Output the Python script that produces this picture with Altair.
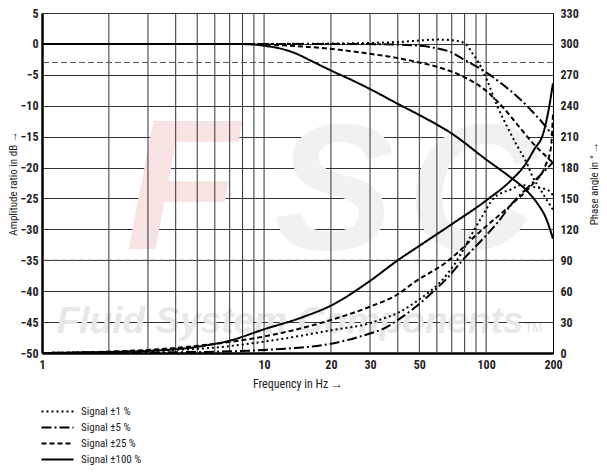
import altair as alt
import pandas as pd

# ---------------- data ----------------
signals = ["Signal ±1 %", "Signal ±5 %", "Signal ±25 %", "Signal ±100 %"]
dash_styles = [[2, 3], [10, 3, 2, 3], [5, 3], [1, 0]]

# amplitude ratio (dB)
amp_f_1 = [1, 10, 20, 30, 40, 50, 60, 70, 80, 87, 95, 101, 112, 124, 138, 152, 162, 175, 188, 200]
amp_db_1 = [0, 0, 0.05, 0.15, 0.3, 0.55, 0.7, 0.6, 0.1, -1.6, -3.8, -5.9, -10.0, -13.3, -16.5, -19.2, -21.5, -23.5, -25.3, -26.8]

amp_f_5 = [1, 20, 40, 50, 60, 70, 80, 90, 100, 120, 140, 160, 180, 200]
amp_db_5 = [0, 0, -0.1, -0.3, -0.7, -1.4, -2.6, -3.6, -4.6, -6.7, -8.7, -10.8, -12.8, -14.9]

amp_f_25 = [1, 8, 13, 20, 30, 40, 50, 60, 80, 100, 120, 140, 160, 180, 200]
amp_db_25 = [0, 0, -0.3, -0.8, -1.6, -2.3, -3.0, -3.7, -5.4, -7.6, -10.4, -13.3, -15.8, -17.7, -19.2]

amp_f_100 = [1, 7, 9, 10, 12, 14, 16, 18, 20, 25, 30, 40, 50, 70, 100, 130, 150, 170, 185, 200]
amp_db_100 = [0, 0, -0.1, -0.3, -0.8, -1.6, -2.6, -3.5, -4.3, -5.9, -7.3, -9.7, -11.5, -14.5, -18.7, -21.7, -23.5, -25.8, -28.0, -31.5]

# phase angle (degrees)
ph_f_1 = [1, 5, 10, 20, 30, 34, 41, 47, 67, 74, 83, 95, 108, 130, 144, 165, 190, 200]
ph_deg_1 = [0, 4, 11, 22, 29, 33, 40, 48, 77, 90, 109, 131, 150, 159, 163, 161, 158, 153]

ph_f_5 = [1, 5, 10, 20, 30, 34, 40, 47, 58, 67, 79, 94, 112, 133, 158, 180, 200]
ph_deg_5 = [0, 1, 3, 9, 19, 23, 32, 43, 60, 73, 91, 108, 126, 147, 163, 175, 185]

ph_f_25 = [1, 3, 5, 10, 20, 30, 40, 47, 67, 94, 133, 162, 185, 196, 200]
ph_deg_25 = [0, 3, 7, 16, 32, 45, 57, 68, 89, 118, 146, 164, 182, 200, 232]

ph_f_100 = [1, 2, 3, 5, 7, 10, 15, 20, 30, 40, 50, 70, 100, 130, 150, 165, 180, 190, 200]
ph_deg_100 = [0, 1, 2, 6, 12, 23, 35, 46, 70, 90, 104, 125, 148, 168, 183, 198, 212, 233, 262]

grid_freqs = [2, 3, 4, 5, 6, 7, 8, 9, 10, 20, 30, 40, 50, 60, 70, 80, 90, 100]
x_tick_values = [1, 10, 20, 30, 50, 100, 200]
db_ticks = list(range(-50, 6, 5))
deg_ticks = list(range(0, 331, 30))
ref_db = [-3]
ref_deg = [90]

# ---------------- tables ----------------
amp_sets = [(amp_f_1, amp_db_1), (amp_f_5, amp_db_5), (amp_f_25, amp_db_25), (amp_f_100, amp_db_100)]
ph_sets = [(ph_f_1, ph_deg_1), (ph_f_5, ph_deg_5), (ph_f_25, ph_deg_25), (ph_f_100, ph_deg_100)]

amp_rows, ph_rows = [], []
for s, (fs, vs) in zip(signals, amp_sets):
    for i, (f, v) in enumerate(zip(fs, vs)):
        amp_rows.append({"f": f, "db": v, "signal": s, "i": i})
for s, (fs, vs) in zip(signals, ph_sets):
    for i, (f, v) in enumerate(zip(fs, vs)):
        ph_rows.append({"f": f, "deg": v, "signal": s, "i": i})
amp_df = pd.DataFrame(amp_rows)
ph_df = pd.DataFrame(ph_rows)
grid_df = pd.DataFrame({"f": grid_freqs})

W, H = 511, 340
FONT = "Liberation Sans Narrow, Roboto Condensed, Arial Narrow, Liberation Sans, sans-serif"

xscale = alt.Scale(type="log", domain=[1, 200], nice=False)
dbscale = alt.Scale(domain=[-50, 5], nice=False, zero=False)
degscale = alt.Scale(domain=[0, 330], nice=False, zero=False)

x_axis = alt.Axis(values=x_tick_values, grid=False, ticks=False, domainWidth=2.5,
                  domainColor="black", labelFontWeight="bold", labelFontSize=12,
                  labelColor="#222", labelPadding=6, labelFont=FONT, titleFont=FONT,
                  titleFontWeight="normal", titleFontSize=12, titleColor="#222",
                  titlePadding=8, labelFlush=False, format="d")
db_axis = alt.Axis(orient="left", values=db_ticks, grid=True, gridColor="#333333",
                   gridWidth=1, ticks=False, domainWidth=2.5, domainColor="black",
                   labelFontWeight="bold", labelFontSize=12, labelColor="#222",
                   labelPadding=4, labelFont=FONT, titleFont=FONT,
                   titleFontWeight="normal", titleFontSize=11, titleColor="#222",
                   titleAngle=270, titleX=-29, titleY=H / 2, titleAlign="center",
                   titleBaseline="middle")
deg_axis = alt.Axis(orient="right", values=deg_ticks, grid=False, ticks=False,
                    domainWidth=1, domainColor="black", labelFontWeight="bold",
                    labelFontSize=12, labelColor="#222", labelPadding=7, labelFont=FONT,
                    titleFont=FONT, titleFontWeight="normal", titleFontSize=11,
                    titleColor="#222", titleAngle=270, titleX=41, titleY=H / 2,
                    titleAlign="center", titleBaseline="middle")

legend = alt.Legend(orient="none", legendX=9, legendY=392, padding=0, title=None,
                    symbolType="M-3,0H3", symbolSize=114, symbolStrokeWidth=2,
                    symbolStrokeColor="black", labelFont=FONT, labelFontSize=11,
                    labelColor="#222", labelOffset=17, rowPadding=4)
dash = alt.StrokeDash("signal:N", scale=alt.Scale(domain=signals, range=dash_styles),
                      sort=signals, legend=legend)

X_TITLE = "Frequency in Hz →"
DB_TITLE = "Amplitude ratio in dB →"
DEG_TITLE = "Phase angle in ° →"

# ---------------- watermark ----------------
wm = pd.DataFrame({"t": [0]})
def wm_text(txt, x, y, size, color, align="center"):
    return alt.Chart(wm).mark_text(text=txt, fontSize=size, fontWeight="bold", fontStyle="italic",
                                   font="Liberation Sans", color=color, baseline="alphabetic",
                                   align=align).encode(x=alt.value(x), y=alt.value(y))

wm_F = wm_text("F", 140, 236, 185, "#f8e3e3")
wm_S = wm_text("S", 292, 236, 180, "#f1f1f1")
wm_C = wm_text("C", 430, 236, 180, "#f1f1f1")
wm_txt = wm_text("Fluid System Components", 248, 320, 37, "#e8e8e8")
wm_tm = alt.Chart(wm).mark_text(text="TM", fontSize=12, font="Liberation Sans", color="#e2e2e2",
                                baseline="alphabetic", align="left").encode(
    x=alt.value(483), y=alt.value(319))

# ---------------- grid ----------------
vgrid = alt.Chart(grid_df).mark_rule(color="#333333", strokeWidth=1).encode(
    x=alt.X("f:Q", scale=xscale, axis=x_axis, title=X_TITLE),
    y=alt.value(0), y2=alt.value(H))

# ---------------- amplitude ----------------
amp_lines = alt.Chart(amp_df).mark_line(color="black", strokeWidth=2, interpolate="monotone").encode(
    x=alt.X("f:Q", scale=xscale, axis=x_axis, title=X_TITLE),
    y=alt.Y("db:Q", scale=dbscale, axis=db_axis, title=DB_TITLE),
    strokeDash=dash,
    detail="signal:N",
    order="i:Q",
)
amp_ref = alt.Chart(pd.DataFrame({"db": ref_db})).mark_rule(
    color="#555555", strokeWidth=1, strokeDash=[6, 3]).encode(
    y=alt.Y("db:Q", scale=dbscale, axis=db_axis, title=DB_TITLE))
amp_layer = alt.layer(amp_ref, amp_lines)

# ---------------- phase ----------------
ph_lines = alt.Chart(ph_df).mark_line(color="black", strokeWidth=2, interpolate="monotone").encode(
    x=alt.X("f:Q", scale=xscale, axis=x_axis, title=X_TITLE),
    y=alt.Y("deg:Q", scale=degscale, axis=deg_axis, title=DEG_TITLE),
    strokeDash=dash,
    detail="signal:N",
    order="i:Q",
)
ph_ref = alt.Chart(pd.DataFrame({"deg": ref_deg})).mark_rule(
    color="#555555", strokeWidth=1, strokeDash=[6, 3]).encode(
    y=alt.Y("deg:Q", scale=degscale, axis=deg_axis, title=DEG_TITLE))
ph_layer = alt.layer(ph_ref, ph_lines)

chart = alt.layer(
    wm_F, wm_S, wm_C, wm_txt, wm_tm, vgrid, amp_layer, ph_layer
).resolve_scale(y="independent").properties(
    width=W, height=H,
    autosize=alt.AutoSizeParams(type="none"),
    padding={"left": 34, "top": 5, "right": 46, "bottom": 112},
).configure_view(stroke="black", strokeWidth=1).configure(background="white")

chart.save("out.html", embed_options={"renderer": "svg", "actions": False})
